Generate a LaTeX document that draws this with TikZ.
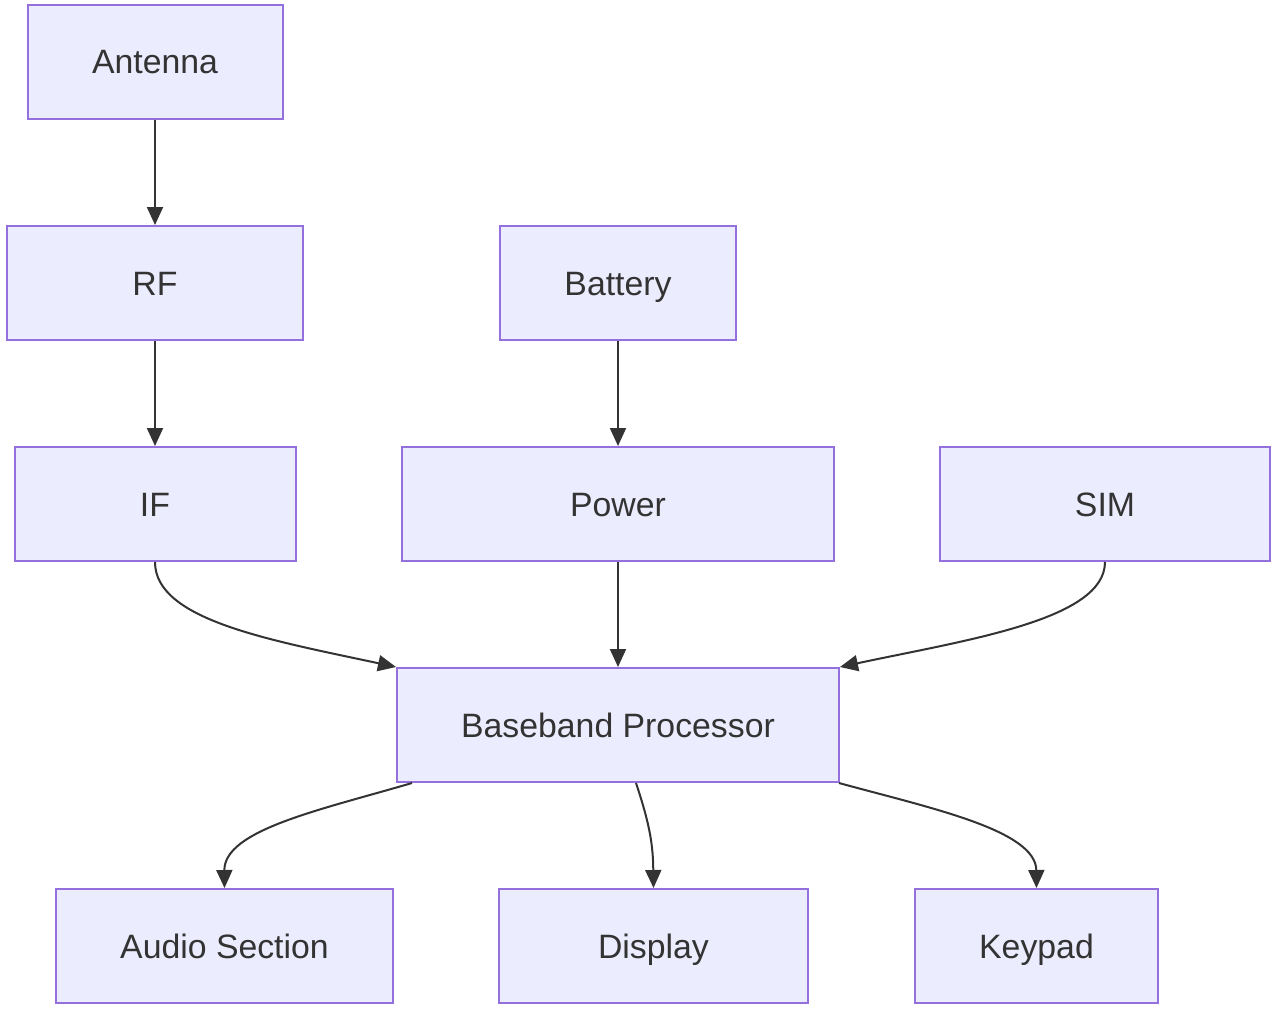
\documentclass[tikz,border=0pt]{standalone}
\usepackage{fontspec}
\setmainfont{Liberation Sans}
\usetikzlibrary{arrows.meta}
\definecolor{nodefill}{HTML}{ECECFF}
\definecolor{nodeline}{HTML}{9370DB}
\definecolor{edgeline}{HTML}{333333}
\begin{document}
\begin{tikzpicture}[x=0.5pt,y=-0.5pt]
\useasboundingbox (0,0) rectangle (1282,1009);
\begin{scope}[every node/.style={rectangle,draw=nodeline,fill=nodefill,line width=1pt,
              minimum height=57pt,inner sep=0pt,text=edgeline,
              text height=12.1pt,text depth=0pt,
              font=\fontsize{16.9}{20}\selectfont}]
    \node[minimum width=127.5pt] (antenna) at (155,61.5) {Antenna};
    \node[minimum width=148pt] (rf) at (155,283) {RF};
    \node[minimum width=118pt] (battery) at (618,283) {Battery};
    \node[minimum width=140.5pt] (if) at (155,504) {IF};
    \node[minimum width=216pt] (power) at (618,504) {Power};
    \node[minimum width=165pt] (sim) at (1105,504) {SIM};
    \node[minimum width=221pt] (bb) at (618,725) {Baseband Processor};
    \node[minimum width=168.5pt] (audio) at (224.5,946) {Audio Section};
    \node[minimum width=154.5pt] (display) at (653.5,946) {Display};
    \node[minimum width=121.5pt] (keypad) at (1036.5,946) {Keypad};
\end{scope}
\begin{scope}[>={Triangle[length=9pt,width=8pt]},
              every edge/.style={draw=edgeline,line width=1pt}]
    \path [->] (antenna) edge (rf);
    \path [->] (rf) edge (if);
    \path [->] (battery) edge (power);
    \path [->] (power) edge (bb);
\end{scope}
\begin{scope}[>={Triangle[length=9pt,width=8pt]},draw=edgeline,line width=1pt]
    \draw [->] (if.south) .. controls (155,620) and (270,640) .. (bb.north west);
    \draw [->] (sim.south) .. controls (1105,620) and (966,640) .. (bb.north east);
    \draw [->] ([xshift=8pt]bb.south west) .. controls (320,810) and (224,830) .. (audio.north);
    \draw [->] ([xshift=9pt]bb.south) .. controls (650,825) and (653,845) .. (display.north);
    \draw [->] ([xshift=-0.5pt]bb.south east) .. controls (930,808) and (1036,830) .. (keypad.north);
\end{scope}
\end{tikzpicture}
\end{document}
